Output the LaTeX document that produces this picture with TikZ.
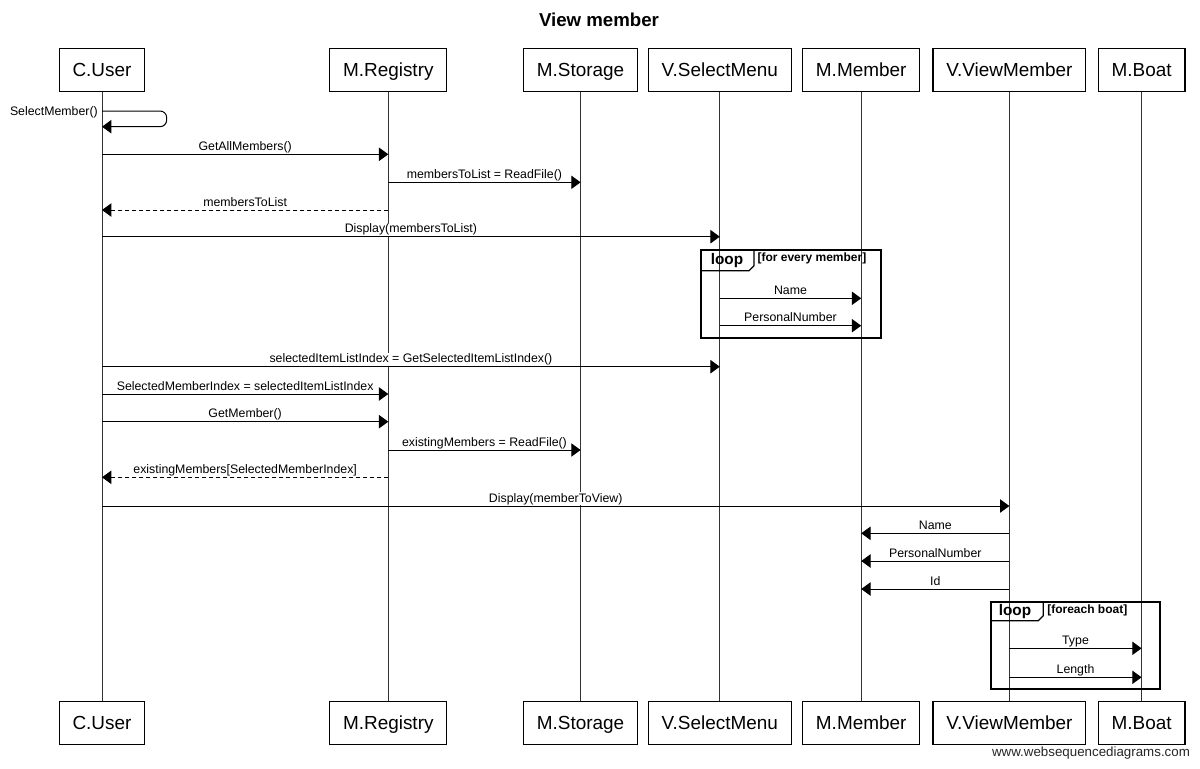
\documentclass[tikz,border=0pt]{standalone}
\usepackage{fontspec}
\setmainfont{Liberation Sans}
\usetikzlibrary{arrows.meta}
\tikzset{
  actorbox/.style={draw=black, line width=0.9pt, fill=white, minimum height=32pt, inner xsep=10pt, inner ysep=0pt, text height=10.2pt, text depth=0pt, font=\fontsize{14.2}{16}\selectfont},
  lifeline/.style={draw=black!80, line width=0.75pt},
  msgarrow/.style={draw=black, line width=0.75pt, -{Triangle[length=7pt,width=10pt]}},
  retarrow/.style={msgarrow, dash pattern=on 3pt off 2.25pt},
  msglabel/.style={midway, anchor=base, yshift=3pt, fill=white, inner sep=0.6pt, font=\fontsize{9.25}{11}\selectfont},
  loopframe/.style={draw=black, line width=1.5pt},
  looptag/.style={font=\bfseries\fontsize{11.5}{13}\selectfont, inner sep=0pt},
  loopcond/.style={font=\bfseries\fontsize{9}{11}\selectfont, inner sep=0pt, anchor=north west},
  titlestyle/.style={font=\bfseries\fontsize{14}{16}\selectfont},
  footstyle/.style={font=\fontsize{10}{12}\selectfont, text=black!85}
}
\newcommand\sdmsg[4]{\draw[msgarrow] (#1 |- 0,#3) -- node[msglabel]{#4} (#2 |- 0,#3);}
\newcommand\sdret[4]{\draw[retarrow] (#1 |- 0,#3) -- node[msglabel]{#4} (#2 |- 0,#3);}
\begin{document}
\begin{tikzpicture}[x=0.75pt,y=-0.75pt]
\useasboundingbox (0,0) rectangle (1200,768);
\fill[white] (0,0) rectangle (1200,768);

\node[titlestyle] (title) at (599,20) {View member};

% participants top
\node[actorbox] (uT) at (102,70) {C.User};
\node[actorbox] (rT) at (388.3,70) {M.Registry};
\node[actorbox] (sT) at (580.6,70) {M.Storage};
\node[actorbox] (mT) at (719.8,70) {V.SelectMenu};
\node[actorbox] (eT) at (861.2,70) {M.Member};
\node[actorbox] (vT) at (1009.4,70) {V.ViewMember};
\node[actorbox] (bT) at (1141.6,70) {M.Boat};
% participants bottom
\node[actorbox] (uB) at (102,722.8) {C.User};
\node[actorbox] (rB) at (388.3,722.8) {M.Registry};
\node[actorbox] (sB) at (580.6,722.8) {M.Storage};
\node[actorbox] (mB) at (719.8,722.8) {V.SelectMenu};
\node[actorbox] (eB) at (861.2,722.8) {M.Member};
\node[actorbox] (vB) at (1009.4,722.8) {V.ViewMember};
\node[actorbox] (bB) at (1141.6,722.8) {M.Boat};

% lifelines
\foreach \p in {u,r,s,m,e,v,b}{
  \draw[lifeline] (\p T.south) -- (\p B.north);
}

% self message
\draw[msgarrow, rounded corners=5pt] (uT |- 0,111) -- ++(64.7,0) |- (uT |- 0,126.7);
\node[anchor=base east, inner sep=0pt, font=\fontsize{9.25}{11}\selectfont] (selflbl) at (98,115.5) {SelectMember()};

\sdmsg{uT}{rT}{154.3}{GetAllMembers()}
\sdmsg{rT}{sT}{182.3}{membersToList = ReadFile()}
\sdret{rT}{uT}{210}{membersToList}
\sdmsg{uT}{mT}{236.7}{Display(membersToList)}

% loop 1
\draw[loopframe] (701,250) rectangle (881,338.3);
\draw[line width=1pt] (701,270.7) -- (749,270.7) -- (754,265.7) -- (754,250);
\node[looptag] (loop1) at (727,260.5) {loop};
\node[loopcond] (cond1) at (757.3,253) {[for every member]};
\sdmsg{mT}{eT}{298.3}{Name}
\sdmsg{mT}{eT}{325.7}{PersonalNumber}

\sdmsg{uT}{mT}{366.7}{selectedItemListIndex = GetSelectedItemListIndex()}
\sdmsg{uT}{rT}{394}{SelectedMemberIndex = selectedItemListIndex}
\sdmsg{uT}{rT}{421.7}{GetMember()}
\sdmsg{rT}{sT}{450}{existingMembers = ReadFile()}
\sdret{rT}{uT}{477.3}{existingMembers[SelectedMemberIndex]}
\sdmsg{uT}{vT}{506}{Display(memberToView)}
\sdmsg{vT}{eT}{533.3}{Name}
\sdmsg{vT}{eT}{561}{PersonalNumber}
\sdmsg{vT}{eT}{589}{Id}

% loop 2
\draw[loopframe] (991,601.7) rectangle (1160,689);
\draw[line width=1pt] (991,620.7) -- (1038.3,620.7) -- (1043.3,615.7) -- (1043.3,601.7);
\node[looptag] (loop2) at (1015,611.5) {loop};
\node[loopcond] (cond2) at (1047,604.5) {[foreach boat]};
\sdmsg{vT}{bT}{648.3}{Type}
\sdmsg{vT}{bT}{677.3}{Length}

\node[footstyle] (foot) at (1091,753) {www.websequencediagrams.com};
\end{tikzpicture}
\end{document}
